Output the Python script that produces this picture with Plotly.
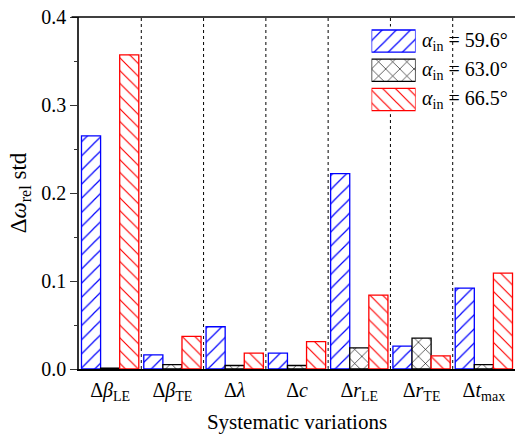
import plotly.graph_objects as go

categories = ["Δ<i>β</i><sub>LE</sub>", "Δ<i>β</i><sub>TE</sub>", "Δ<i>λ</i>", "Δ<i>c</i>",
              "Δ<i>r</i><sub>LE</sub>", "Δ<i>r</i><sub>TE</sub>", "Δ<i>t</i><sub>max</sub>"]
series_names = ["<i>α</i><sub>in</sub> = 59.6°", "<i>α</i><sub>in</sub> = 63.0°", "<i>α</i><sub>in</sub> = 66.5°"]
vals_596 = [0.265, 0.016, 0.048, 0.018, 0.222, 0.026, 0.092]
vals_630 = [0.001, 0.005, 0.004, 0.004, 0.024, 0.035, 0.005]
vals_665 = [0.357, 0.037, 0.018, 0.031, 0.084, 0.015, 0.109]
y_ticks = [0.0, 0.1, 0.2, 0.3, 0.4]

FONT = "Liberation Serif"
colors = ["#0000ff", "#000000", "#ff0000"]
shapes_pat = ["/", "x", "\\"]
sizes = [10, 10, 9]
solid = [0.12, 0.12, 0.13]
all_vals = [vals_596, vals_630, vals_665]

fig = go.Figure()
for name, vals, c, sh, sz, so in zip(series_names, all_vals, colors, shapes_pat, sizes, solid):
    fig.add_trace(go.Bar(
        x=categories, y=vals, name=name,
        marker=dict(color="white", line=dict(color=c, width=1.3),
                    pattern=dict(shape=sh, fgcolor=c, bgcolor="white", size=sz, solidity=so,
                                 fgopacity=1)),
        showlegend=False))

# custom legend swatches on an auxiliary axis
for i, (name, c, sh, sz, so) in enumerate(zip(series_names, colors, shapes_pat, sizes, solid)):
    fig.add_trace(go.Bar(
        x=[1], y=[2 - i], orientation="h", width=0.76, xaxis="x2", yaxis="y2",
        marker=dict(color="white", line=dict(color=c, width=1.3),
                    pattern=dict(shape=sh, fgcolor=c, bgcolor="white", size=sz, solidity=so,
                                 fgopacity=1)),
        showlegend=False, hoverinfo="skip"))
    fig.add_annotation(xref="x2 domain", yref="y2", x=1.11, y=2 - i, xanchor="left", yanchor="middle",
                       text=name, showarrow=False, font=dict(family=FONT, size=20, color="black"))

# dotted separators between groups
for k in range(len(categories) - 1):
    fig.add_shape(type="line", xref="x", yref="paper", x0=k + 0.5, x1=k + 0.5, y0=0, y1=1,
                  line=dict(color="black", width=1, dash="dot"), layer="below")

fig.update_layout(
    width=516, height=436,
    margin=dict(l=79, r=1, t=17, b=67),
    paper_bgcolor="white", plot_bgcolor="white",
    barmode="group", bargap=0.08, bargroupgap=0,
    font=dict(family=FONT, size=20, color="black"),
    xaxis=dict(showline=True, linecolor="black", linewidth=1.5, ticks="", showgrid=False,
               tickfont=dict(family=FONT, size=20), ticklabelstandoff=2,
               title=dict(text="Systematic variations", font=dict(family=FONT, size=21), standoff=11),
               range=[-0.5, 6.5]),
    yaxis=dict(range=[0, 0.4], tickvals=y_ticks, tickformat=".1f", showgrid=False, zeroline=False,
               showline=True, linecolor="#333", linewidth=1.5, mirror=False,
               ticks="outside", ticklen=7, tickwidth=1.2, tickcolor="#333",
               minor=dict(dtick=0.05, ticks="outside", ticklen=3, tickcolor="#333"),
               tickfont=dict(family=FONT, size=20),
               title=dict(text="Δ<i>ω</i><sub>rel</sub> std", font=dict(family=FONT, size=23), standoff=8)),
    xaxis2=dict(domain=[0.671, 0.772], range=[0, 1], visible=False, anchor="y2", fixedrange=True),
    yaxis2=dict(domain=[0.724, 0.973], range=[-0.5, 2.5], visible=False, anchor="x2", fixedrange=True),
)
# top frame line
fig.add_shape(type="line", xref="paper", yref="paper", x0=-0.017, x1=1, y0=1, y1=1,
              line=dict(color="black", width=1.5))

fig.write_html("out.html", config={"displayModeBar": False},
               post_script="document.body.style.margin='0';")
